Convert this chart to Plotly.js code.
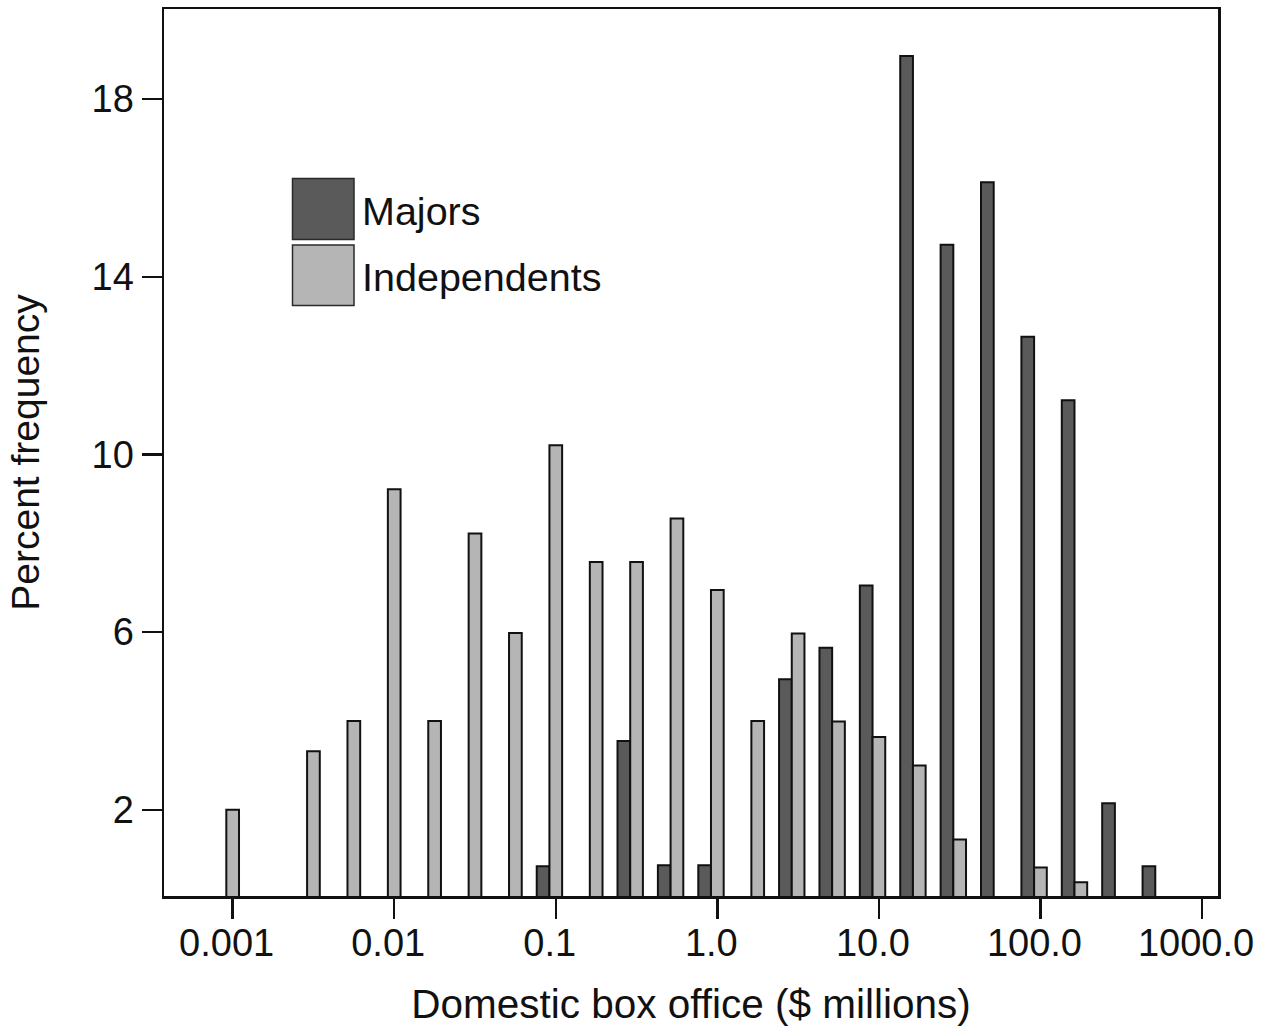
<!DOCTYPE html>
<html>
<head>
<meta charset="utf-8">
<script src="https://cdn.plot.ly/plotly-3.0.1.min.js"></script>
<style>
  html, body { margin: 0; padding: 0; background: #ffffff; }
  #chart { width: 1284px; height: 1027px; }
</style>
</head>
<body>
<div id="chart"></div>
<script>
// Bin centres as log10 of domestic box office ($ millions), quarter-decade bins
const binExp = [-3, -2.75, -2.5, -2.25, -2, -1.75, -1.5, -1.25, -1, -0.75, -0.5, -0.25,
                0, 0.25, 0.5, 0.75, 1, 1.25, 1.5, 1.75, 2, 2.25, 2.5, 2.75];

// Percent frequency per bin
const majors = [0, 0, 0, 0, 0, 0, 0, 0, 0.73, 0, 3.55, 0.75,
                0.75, 0, 4.94, 5.65, 7.05, 18.97, 14.72, 16.13, 12.65, 11.22, 2.15, 0.73];
const independents = [2.0, 0, 3.32, 4.0, 9.22, 4.0, 8.22, 5.98, 10.21, 7.58, 7.58, 8.56,
                      6.95, 4.0, 5.97, 3.99, 3.64, 3.0, 1.33, 0, 0.7, 0.37, 0, 0];

// Axis tick labels
const xTickVals = [-3, -2, -1, 0, 1, 2, 3];
const xTickText = ['0.001', '0.01', '0.1', '1.0', '10.0', '100.0', '1000.0'];
const yTickVals = [2, 6, 10, 14, 18];

const seriesNames = ['Majors', 'Independents'];
const seriesColors = ['#5a5a5a', '#b5b5b5'];

const FONT = 'Liberation Sans, Arial, Helvetica, sans-serif';
const W = 0.0786;

const traces = [
  {
    type: 'bar', name: seriesNames[0], x: binExp, y: majors,
    width: W, offset: -1.5 * W,
    marker: { color: seriesColors[0], line: { color: '#111111', width: 2 } },
    hoverinfo: 'y'
  },
  {
    type: 'bar', name: seriesNames[1], x: binExp, y: independents,
    width: W, offset: -0.5 * W,
    marker: { color: seriesColors[1], line: { color: '#111111', width: 2 } },
    hoverinfo: 'y'
  }
];

const plotL = 164, plotR = 1218, plotT = 9, plotB = 896;
const pw = plotR - plotL, ph = plotB - plotT;
const px = v => (v - plotL) / pw;
const py = v => (plotB - v) / ph;

const legendBoxes = [
  { x0: 292.5, x1: 354, y0: 178.5, y1: 239.5 },
  { x0: 292.5, x1: 354, y0: 245, y1: 305.5 }
];

const shapes = legendBoxes.map((b, i) => ({
  type: 'rect', xref: 'paper', yref: 'paper',
  x0: px(b.x0), x1: px(b.x1), y0: py(b.y1), y1: py(b.y0),
  fillcolor: seriesColors[i], line: { color: '#2a2a2a', width: 1.5 }
}));

const annotations = legendBoxes.map((b, i) => ({
  xref: 'paper', yref: 'paper', x: px(360), y: py((b.y0 + b.y1) / 2 + 2),
  xanchor: 'left', yanchor: 'middle', showarrow: false,
  text: seriesNames[i], font: { family: FONT, size: 39.5, color: '#111111' }
}));

const axisCommon = {
  showline: true, linecolor: '#111111', linewidth: 2.5, mirror: true,
  ticks: 'outside', ticklen: 20, tickwidth: 2.5, tickcolor: '#111111',
  showgrid: false, zeroline: false, automargin: false, fixedrange: true,
  tickfont: { family: FONT, size: 38, color: '#111111' }
};

const layout = {
  width: 1284, height: 1027,
  margin: { l: plotL, r: 1284 - plotR, t: plotT, b: 1027 - plotB, pad: 0 },
  paper_bgcolor: '#ffffff', plot_bgcolor: '#ffffff',
  showlegend: false,
  barmode: 'overlay',
  font: { family: FONT, color: '#111111' },
  xaxis: Object.assign({}, axisCommon, {
    type: 'linear', range: [-3.425, 3.099],
    tickmode: 'array', tickvals: xTickVals, ticktext: xTickText,
    ticklabelshift: -6, ticklabelstandoff: -8,
    title: { text: 'Domestic box office ($ millions)', font: { family: FONT, size: 40.5, color: '#111111' }, standoff: 28 }
  }),
  yaxis: Object.assign({}, axisCommon, {
    range: [0.06, 20.03],
    tickmode: 'array', tickvals: yTickVals, ticktext: yTickVals.map(String),
    title: { text: 'Percent frequency', font: { family: FONT, size: 39, color: '#111111' }, standoff: 40 }
  }),
  shapes: shapes,
  annotations: annotations
};

Plotly.newPlot('chart', traces, layout, { displayModeBar: false, staticPlot: true });
</script>
</body>
</html>
